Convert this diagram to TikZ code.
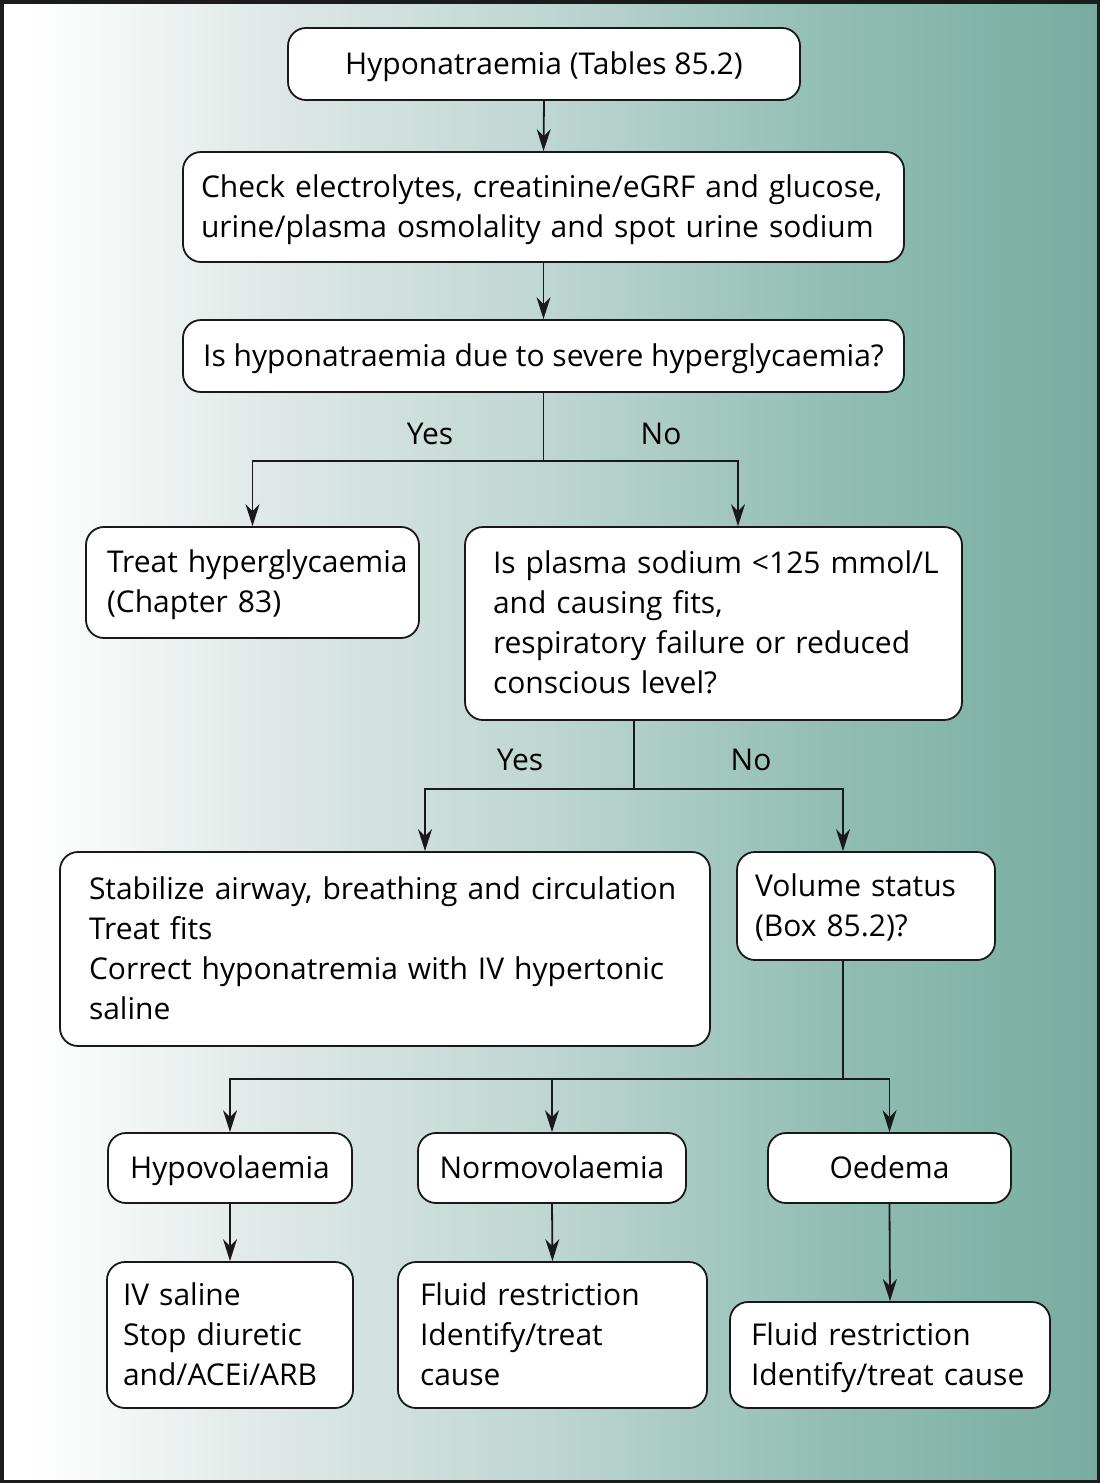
\documentclass[tikz,border=0pt]{standalone}
\usepackage{fontspec}
\setmainfont{Open Sans}
\usetikzlibrary{arrows.meta}
\definecolor{bgA}{RGB}{222,232,230}
\definecolor{bgB}{RGB}{190,214,209}
\definecolor{bgC}{RGB}{146,190,180}
\definecolor{bgD}{RGB}{120,172,160}
\definecolor{framec}{RGB}{28,28,28}
\pgfdeclarehorizontalshading{bgshade}{100bp}{color(0bp)=(white); color(26.4bp)=(white); color(37.5bp)=(bgA); color(50bp)=(bgB); color(62.5bp)=(bgC); color(75bp)=(bgD); color(100bp)=(bgD)}
\newcommand\fs{\fontsize{30}{40}\selectfont}
\newcommand\lne[1]{\mbox{#1}}
\tikzset{
  box/.style={draw=black!90, line width=1.8pt, rounded corners=18pt, fill=white, inner sep=0pt, font=\fs,
    execute at begin node={\rule{0pt}{29pt}}, execute at end node={\rule[-9pt]{0pt}{9pt}}},
  lbox/.style={box, align=left},
  cbox/.style={box, align=center},
  arr/.style={line width=1.8pt, draw=black!90, -{Stealth[length=22pt,width=14pt,inset=7pt]}},
  ln/.style={line width=1.8pt, draw=black!90},
  lbl/.style={font=\fs, inner sep=0pt}
}
\begin{document}
\begin{tikzpicture}[x=1pt,y=-1pt]
\useasboundingbox (0,0) rectangle (1100,1483);
\shade[shading=bgshade] (0,0) rectangle (1100,1483);
\draw[framec, line width=7pt] (0,0) rectangle (1100,1483);

\node[cbox, minimum width=512, minimum height=72] (b1) at (544,64) {Hyponatraemia (Tables 85.2)};
\node[lbox, minimum width=721, minimum height=110, text width=685] (b2) at (543.5,207)
  {\lne{Check electrolytes, creatinine/eGRF and glucose,}\\\lne{urine/plasma osmolality and spot urine sodium}};
\node[cbox, minimum width=721, minimum height=72] (b3) at (543.5,356) {Is hyponatraemia due to severe hyperglycaemia?};
\node[lbox, minimum width=333, minimum height=111, text width=291] (b4) at (252.5,582.5)
  {\lne{Treat hyperglycaemia}\\\lne{(Chapter 83)}};
\node[lbox, minimum width=497, minimum height=193, text width=441] (b5) at (713.5,623.5)
  {\lne{Is plasma sodium <125 mmol/L}\\\lne{and causing fits,}\\\lne{respiratory failure or reduced}\\\lne{conscious level?}};
\node[lbox, minimum width=650, minimum height=194, text width=592] (b6) at (385,949)
  {\lne{Stabilize airway, breathing and circulation}\\\lne{Treat fits}\\\lne{Correct hyponatremia with IV hypertonic}\\\lne{saline}};
\node[lbox, minimum width=258, minimum height=108, text width=222] (b7) at (866,906)
  {\lne{Volume status}\\\lne{(Box 85.2)?}};
\node[cbox, minimum width=244, minimum height=70] (b8) at (230,1168) {Hypovolaemia};
\node[cbox, minimum width=268, minimum height=70] (b9) at (552,1168) {Normovolaemia};
\node[cbox, minimum width=243, minimum height=70] (b10) at (889.5,1168) {Oedema};
\node[lbox, minimum width=246, minimum height=146, text width=214] (b11) at (230,1335)
  {\lne{IV saline}\\\lne{Stop diuretic}\\\lne{and/ACEi/ARB}};
\node[lbox, minimum width=309, minimum height=146, text width=265] (b12) at (552.5,1335)
  {\lne{Fluid restriction}\\\lne{Identify/treat}\\\lne{cause}};
\node[lbox, minimum width=320, minimum height=106, text width=278] (b13) at (890,1355)
  {\lne{Fluid restriction}\\\lne{Identify/treat cause}};

% connectors
\draw[arr] (b1.south) -- (b2.north);
\draw[arr] (b2.south) -- (b3.north);
\draw[ln] (b3.south) -- ++(0,68) coordinate (s1);
\draw[arr] (s1) -| (b4.north);
\draw[arr] (s1) -| ([xshift=24.5]b5.north);
\node[lbl] (y1) at (430,434) {Yes};
\node[lbl] (n1) at (661,434) {No};

\draw[ln] ([xshift=-79.5]b5.south) -- ++(0,68) coordinate (s2);
\draw[arr] (s2) -| ([xshift=40]b6.north);
\draw[arr] (s2) -| ([xshift=-23]b7.north);
\node[lbl] (y2) at (520,760) {Yes};
\node[lbl] (n2) at (751,760) {No};

\draw[ln] ([xshift=-23]b7.south) -- ++(0,118) coordinate (s3);
\draw[arr] (s3) -| (b8.north);
\draw[arr] (s3) -| (b9.north);
\draw[arr] (s3) -| (b10.north);

\draw[arr] (b8.south) -- (b11.north);
\draw[arr] (b9.south) -- (b12.north);
\draw[arr] (b10.south) -- (b13.north);
\end{tikzpicture}
\end{document}
